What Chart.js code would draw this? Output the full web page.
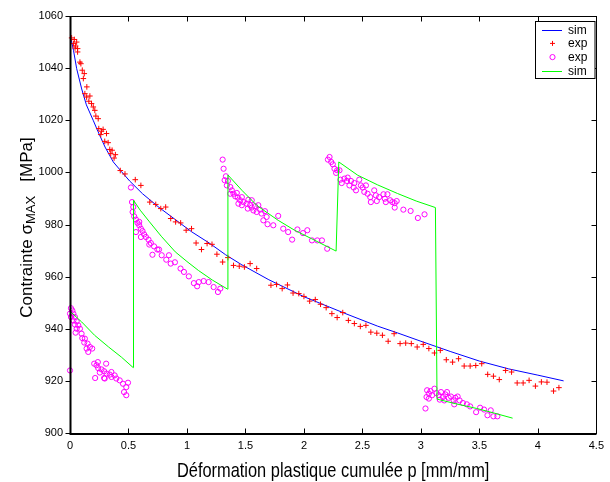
<!DOCTYPE html>
<html>
<head>
<meta charset="utf-8">
<script src="https://cdn.jsdelivr.net/npm/chart.js@4"></script>
<style>
  html, body { margin: 0; padding: 0; background: #fff; }
  #wrap { width: 610px; height: 482px; }
</style>
</head>
<body>
<div id="wrap"><canvas id="chart" width="610" height="482"></canvas></div>
<script>
// Tick values
const X_TICKS = [0, 0.5, 1, 1.5, 2, 2.5, 3, 3.5, 4, 4.5];
const Y_TICKS = [900, 920, 940, 960, 980, 1000, 1020, 1040, 1060];

// sim (blue) - monotonic curve, [p, sigma]
const simBlue = [
    [0, 1053], [0.03, 1046.8], [0.057, 1039.8], [0.1, 1032], [0.14, 1025.9],
    [0.2, 1019.8], [0.24, 1015.6], [0.3, 1009.7], [0.37, 1004], [0.44, 1000.3],
    [0.51, 996.7], [0.62, 991.8], [0.76, 986.6], [0.9, 981.9], [1.04, 977.2],
    [1.19, 972.9], [1.33, 968.4], [1.47, 964.5], [1.7, 958.8], [2.0, 952.3],
    [2.35, 945.9], [2.63, 941], [2.8, 938.4], [3.0, 935.2], [3.25, 931.3],
    [3.5, 927.6], [3.75, 924.6], [4.0, 922.2], [4.22, 920]
];

// sim (green) - cyclic curve with jumps
const simGreen = [
    [0, 946.7], [0.1, 942.6], [0.21, 937.5], [0.33, 933], [0.44, 929.1], [0.54, 925.1],
    [0.543, 989.3], [0.6, 985.5], [0.68, 981], [0.78, 975.5], [0.9, 969.5], [1.0, 965.8],
    [1.1, 962.3], [1.22, 958.6], [1.347, 955.2],
    [1.35, 999], [1.47, 993.1], [1.6, 987.2], [1.78, 981.6], [1.92, 977.8], [2.063, 974.6], [2.275, 969.8],
    [2.298, 1004], [2.46, 998.9], [2.63, 995.2], [2.8, 991.9], [2.96, 989], [3.124, 986.5],
    [3.138, 913], [3.3, 911.2], [3.478, 909.4], [3.63, 907.6], [3.784, 905.7]
];

// exp (+ red)
const expPlus = [
    [0.014, 1051.6], [0.037, 1051], [0.029, 1049.4], [0.057, 1050], [0.048, 1048.5], [0.065, 1047.5],
    [0.043, 1047.7], [0.065, 1046.2], [0.085, 1042.3], [0.093, 1041.7], [0.105, 1039.2], [0.122, 1037.9],
    [0.114, 1036], [0.144, 1032.8], [0.127, 1030.2], [0.142, 1028.9], [0.17, 1029.3], [0.161, 1027.3],
    [0.184, 1026.4], [0.199, 1025.1], [0.212, 1023.8], [0.221, 1021.6], [0.241, 1020.6], [0.246, 1016.8],
    [0.269, 1015.8], [0.283, 1016.5], [0.263, 1014.5], [0.312, 1014.9], [0.297, 1011.9], [0.326, 1011.4],
    [0.34, 1008.8], [0.36, 1008.5], [0.348, 1007.2], [0.388, 1006.8], [0.377, 1005.5], [0.43, 1000.7],
    [0.47, 999.4], [0.558, 997.2], [0.606, 995], [0.682, 988.6], [0.733, 987.7], [0.776, 986.1],
    [0.818, 986.7], [0.861, 982.3], [0.903, 981], [0.946, 980.6], [0.993, 977.8], [1.039, 978.4],
    [1.078, 972.9], [1.124, 970.4], [1.172, 972.7], [1.214, 972.4], [1.256, 968.6], [1.305, 965.6],
    [1.35, 967.3], [1.398, 964.3], [1.447, 964], [1.491, 963.7], [1.54, 965], [1.596, 963.1],
    [1.718, 956.7], [1.766, 957], [1.814, 955.4], [1.859, 956.8], [1.907, 953.7], [1.956, 953.5],
    [2.0, 952.4], [2.049, 950.6], [2.097, 951.2], [2.142, 949.4], [2.19, 948.1], [2.239, 945.8],
    [2.284, 944.3], [2.332, 946.2], [2.38, 943.2], [2.431, 942], [2.482, 940.9], [2.53, 941.3],
    [2.572, 938.7], [2.623, 938.3], [2.671, 937.5], [2.72, 935.2], [2.771, 938.1], [2.822, 934.3],
    [2.87, 934.5], [2.918, 934.3], [2.968, 933], [3.02, 934], [3.068, 932.4], [3.116, 930.7],
    [3.166, 931.7], [3.217, 928.1], [3.271, 927.2], [3.322, 928.5], [3.37, 925.7], [3.421, 925.7],
    [3.469, 925.9], [3.52, 926.6], [3.571, 922.5], [3.62, 921.8], [3.67, 920.5], [3.724, 924],
    [3.775, 923.4], [3.823, 919.2], [3.874, 919.2], [3.925, 920.2], [3.979, 918], [4.03, 919.6],
    [4.078, 919.5], [4.134, 916.1], [4.18, 917.4]
];

// exp (o magenta)
const expCircle = [
    // cycle 1
    [0.008, 947.9], [0.02, 947], [0, 945.8], [0.029, 945.8], [0.008, 944.5], [0.042, 944.5],
    [0.029, 943.2], [0.057, 942.8], [0.042, 941.6], [0.071, 941.3], [0.057, 940], [0.085, 940],
    [0.048, 938.5], [0.099, 938.1], [0.105, 936.4], [0.127, 936.2], [0.122, 934.7], [0.15, 934.3],
    [0.17, 933], [0.142, 932.4], [0.19, 932.4], [0.156, 931.1], [0.207, 926.6], [0.227, 926],
    [0.238, 927.2], [0.241, 924.9], [0.269, 924.4], [0.255, 923.2], [0.292, 923.7], [0.309, 926.6],
    [0.312, 922.8], [0.292, 921.1], [0.215, 921.1], [0.34, 922.4], [0.354, 921.5], [0.382, 922.1],
    [0.396, 920.9], [0.425, 920.2], [0.453, 918.9], [0.481, 917.6], [0.496, 919.3], [0.462, 915.7],
    [0.481, 914.5], [0, 924], [0.297, 920.9], [0.354, 923.4],
    // cycle 2
    [0.521, 994.2], [0.53, 988.6], [0.535, 984.8], [0.549, 983.1], [0.564, 981.9], [0.577, 980.6],
    [0.592, 979.7], [0.606, 978.4], [0.62, 977.5], [0.634, 976.2], [0.649, 975.2], [0.671, 974.2],
    [0.691, 972.9], [0.719, 971.6], [0.747, 970.4], [0.705, 968.4], [0.784, 968.2], [0.823, 966.5],
    [0.861, 965], [0.606, 975.2], [0.564, 977.1], [0.592, 981], [0.541, 986.7], [0.678, 972.3],
    [0.761, 970.4], [0.846, 968.2], [0.897, 965.5], [0.945, 963.1], [0.974, 961.8], [1.016, 960.1],
    [1.059, 957.5], [1.101, 957.9], [1.143, 958.3], [1.185, 957.9], [1.228, 956], [1.265, 954.1],
    [1.285, 955.4], [1.087, 956.3],
    // cycle 3
    [1.305, 1004.9], [1.313, 1001.4], [1.333, 998.5], [1.322, 997], [1.35, 996.7], [1.341, 995],
    [1.37, 994.4], [1.384, 993.1], [1.37, 991.8], [1.398, 991.8], [1.413, 990.8], [1.435, 990.3],
    [1.426, 992.1], [1.455, 989.3], [1.469, 990.5], [1.483, 988.6], [1.511, 988], [1.525, 989.5],
    [1.54, 987.4], [1.554, 986.5], [1.582, 987], [1.61, 987.4], [1.52, 986.1], [1.568, 985.4],
    [1.596, 984.8], [1.625, 985.7], [1.638, 984.2], [1.667, 985.1], [1.681, 982.9], [1.653, 981.6],
    [1.689, 980.1], [1.738, 979.7], [1.78, 983.3], [1.823, 978.4], [1.865, 977.1], [1.899, 974.2],
    [1.944, 978.1], [1.992, 976.7], [2.029, 977.8], [2.069, 973.9], [2.114, 973.9], [2.154, 973.9],
    [2.199, 970.7], [1.554, 989.3], [1.44, 988], [1.469, 987.4],
    // cycle 4
    [2.219, 1005.9], [2.205, 1004.9], [2.233, 1004], [2.247, 1003.1], [2.261, 1001.4], [2.284, 1000.8],
    [2.275, 999.8], [2.304, 1000.8], [2.312, 997.2], [2.323, 995.9], [2.346, 997.6], [2.368, 996.7],
    [2.374, 998], [2.389, 995], [2.402, 996.7], [2.431, 995.9], [2.425, 994.2], [2.445, 993.1],
    [2.473, 997.2], [2.487, 995], [2.502, 994.2], [2.53, 995], [2.516, 992.5], [2.544, 991.8],
    [2.567, 990.5], [2.572, 988.6], [2.601, 993.1], [2.615, 991.2], [2.623, 989], [2.643, 990.5],
    [2.68, 991.6], [2.691, 989.9], [2.714, 991.6], [2.7, 988.6], [2.737, 989.3], [2.756, 988.6],
    [2.776, 988.2], [2.793, 989], [2.776, 986.5], [2.85, 985.7], [2.912, 985.2], [2.974, 982.5],
    [3.031, 983.9],
    // cycle 5
    [3.039, 909.4], [3.053, 916.4], [3.068, 915.1], [3.048, 913.8], [3.082, 916.1], [3.096, 914.5],
    [3.116, 917], [3.133, 915.3], [3.068, 913.2], [3.153, 914.5], [3.172, 915.7], [3.189, 913.8],
    [3.209, 914.8], [3.223, 915.7], [3.238, 913.5], [3.257, 914], [3.28, 912.5], [3.294, 913.5],
    [3.314, 914], [3.331, 912.5], [3.285, 911], [3.359, 911.5], [3.393, 911], [3.421, 910.2],
    [3.472, 908], [3.506, 909.7], [3.54, 909], [3.569, 906.8], [3.597, 908.7], [3.62, 906.4],
    [3.654, 906.4], [3.2, 912.5], [3.161, 912.8]
];

const X_TITLE = 'Déformation plastique cumulée p [mm/mm]';
const FONT = "'Liberation Sans', Arial, Helvetica, sans-serif";

const toPts = arr => arr.map(p => ({ x: p[0], y: p[1] }));

// Box + MATLAB-like tick marks (left outward, others inward)
const framePlugin = {
    id: 'frame',
    afterDatasetsDraw(chart) {
        const { ctx, chartArea: a, scales } = chart;
        const L = Math.round(a.left) + 0.5, R = Math.round(a.right) + 0.5;
        const T = Math.round(a.top) + 0.5, B = Math.round(a.bottom) + 0.5;
        ctx.save();
        ctx.strokeStyle = '#000';
        ctx.lineWidth = 1;
        ctx.strokeRect(L, T, R - L, B - T);
        ctx.lineWidth = 2;
        ctx.beginPath();
        ctx.moveTo(L, T); ctx.lineTo(L, B + 0.5); ctx.lineTo(R, B + 0.5);
        ctx.stroke();
        ctx.lineWidth = 1;
        ctx.beginPath();
        X_TICKS.forEach(v => {
            const x = Math.round(scales.x.getPixelForValue(v)) + 0.5;
            ctx.moveTo(x, B); ctx.lineTo(x, B - 5);
            ctx.moveTo(x, T); ctx.lineTo(x, T + 5);
        });
        Y_TICKS.forEach(v => {
            const y = Math.round(scales.y.getPixelForValue(v)) + 0.5;
            ctx.moveTo(L, y); ctx.lineTo(L - 5, y);
            ctx.moveTo(R, y); ctx.lineTo(R - 5, y);
        });
        ctx.stroke();
        ctx.restore();
    }
};

// Axis titles (y with subscript) + boxed legend
const labelsPlugin = {
    id: 'labels',
    afterDraw(chart) {
        const { ctx, chartArea: a } = chart;

        // x-axis title, slightly stretched vertically like the original figure
        ctx.save();
        ctx.fillStyle = '#000';
        ctx.font = '16.4px ' + FONT;
        ctx.textAlign = 'center';
        ctx.textBaseline = 'alphabetic';
        ctx.translate((a.left + a.right) / 2, 476.5);
        ctx.scale(1, 1.18);
        ctx.fillText(X_TITLE, 0, 0);
        ctx.restore();

        // y-axis title
        ctx.save();
        ctx.fillStyle = '#000';
        const big = '17px ' + FONT, small = '13px ' + FONT;
        const p1 = 'Contrainte \u03c3', p2 = 'MAX', p3 = '   [MPa]';
        ctx.font = big; const w1 = ctx.measureText(p1).width; const w3 = ctx.measureText(p3).width;
        ctx.font = small; const w2 = ctx.measureText(p2).width;
        const total = w1 + w2 + w3;
        ctx.translate(32, 227.5);
        ctx.rotate(-Math.PI / 2);
        ctx.textBaseline = 'alphabetic';
        ctx.textAlign = 'left';
        let x0 = -total / 2;
        ctx.font = big; ctx.fillText(p1, x0, 0);
        ctx.font = small; ctx.fillText(p2, x0 + w1, 3);
        ctx.font = big; ctx.fillText(p3, x0 + w1 + w2, 0);
        ctx.restore();

        // legend
        ctx.save();
        const bx = 535.5, by = 21.5, bw = 59.5, bh = 57;
        ctx.fillStyle = '#fff';
        ctx.fillRect(bx, by, bw, bh);
        ctx.strokeStyle = '#000';
        ctx.lineWidth = 1;
        ctx.strokeRect(bx, by, bw, bh);
        ctx.font = '12px ' + FONT;
        ctx.textBaseline = 'middle';
        ctx.textAlign = 'left';
        chart.data.datasets.forEach((ds, i) => {
            const y = 29.7 + i * 13.7;
            ctx.strokeStyle = ds.borderColor;
            ctx.lineWidth = 1;
            ctx.beginPath();
            if (ds.showLine) {
                ctx.moveTo(542, Math.round(y) + 0.5); ctx.lineTo(562, Math.round(y) + 0.5);
            } else if (ds.pointStyle === 'cross') {
                ctx.moveTo(552.5, y - 2.5); ctx.lineTo(552.5, y + 2.5);
                ctx.moveTo(550, y); ctx.lineTo(555, y);
            } else {
                ctx.arc(552.5, y, 2.6, 0, Math.PI * 2);
            }
            ctx.stroke();
            ctx.fillStyle = '#000';
            ctx.fillText(ds.label, 568, y + 0.5);
        });
        ctx.restore();
    }
};

const tickFont = { family: FONT, size: 11 };

new Chart(document.getElementById('chart').getContext('2d'), {
    type: 'scatter',
    data: {
        datasets: [
            { label: 'sim', data: toPts(simBlue), showLine: true, borderColor: '#0000ff', borderWidth: 1,
              pointRadius: 0, tension: 0, order: 4 },
            { label: 'exp', data: toPts(expPlus), pointStyle: 'cross', pointRadius: 2.8, borderColor: '#ff0000',
              backgroundColor: '#ff0000', pointBorderWidth: 1, borderWidth: 1, order: 3, clip: false },
            { label: 'exp', data: toPts(expCircle), pointStyle: 'circle', pointRadius: 2.6, borderColor: '#ff00ff',
              backgroundColor: 'rgba(0,0,0,0)', pointBorderWidth: 1, borderWidth: 1, order: 2, clip: false },
            { label: 'sim', data: toPts(simGreen), showLine: true, borderColor: '#00ff00', borderWidth: 1,
              pointRadius: 0, tension: 0, order: 1 }
        ]
    },
    options: {
        responsive: false,
        animation: false,
        devicePixelRatio: 1,
        layout: { padding: { top: 16, right: 10, left: 0, bottom: 0 } },
        plugins: { legend: { display: false }, tooltip: { enabled: false } },
        scales: {
            x: {
                type: 'linear', min: 0, max: 4.5,
                afterFit: s => { s.height = 49; },
                afterBuildTicks: s => { s.ticks = X_TICKS.map(v => ({ value: v })); },
                grid: { display: false, drawTicks: false },
                border: { display: false },
                ticks: { font: tickFont, color: '#000', padding: 6, maxRotation: 0, callback: v => String(v) }
            },
            y: {
                type: 'linear', min: 900, max: 1060,
                afterFit: s => { s.width = 70; },
                afterBuildTicks: s => { s.ticks = Y_TICKS.map(v => ({ value: v })); },
                grid: { display: false, drawTicks: false },
                border: { display: false },
                ticks: { font: tickFont, color: '#000', padding: 7, callback: v => String(v) }
            }
        }
    },
    plugins: [framePlugin, labelsPlugin]
});
</script>
</body>
</html>
